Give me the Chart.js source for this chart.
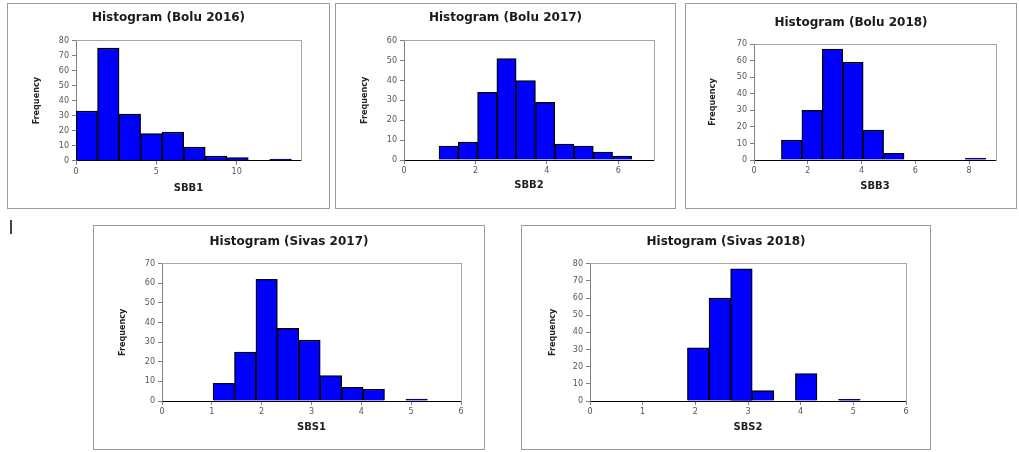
<!DOCTYPE html>
<html>
<head>
<meta charset="utf-8">
<script src="https://cdn.jsdelivr.net/npm/chart.js@4.4.0/dist/chart.umd.min.js"></script>
<style>
  body { margin: 0; background: #fff; width: 1019px; height: 452px; overflow: hidden; position: relative; }
  .panel { position: absolute; border: 1px solid #9c9c9c; background: #fff; }
  .panel canvas { display: block; }
  #cursor { position: absolute; left: 10px; top: 220px; width: 2px; height: 14px; background: #444; }
</style>
</head>
<body>
<div id="cursor"></div>
<script>
// bin centres (x) and frequencies
const bolu2016Bins = [0.67, 2.01, 3.35, 4.69, 6.03, 7.37, 8.71, 10.05, 11.39, 12.73];
const bolu2016Counts = [33, 75, 31, 18, 19, 9, 3, 2, 0, 1];

const bolu2017Bins = [1.25, 1.79, 2.33, 2.87, 3.41, 3.95, 4.49, 5.03, 5.57, 6.11];
const bolu2017Counts = [7, 9, 34, 51, 40, 29, 8, 7, 4, 2];

const bolu2018Bins = [1.40, 2.16, 2.92, 3.68, 4.44, 5.20, 5.96, 6.72, 7.48, 8.24];
const bolu2018Counts = [12, 30, 67, 59, 18, 4, 0, 0, 0, 1];

const sivas2017Bins = [1.24, 1.67, 2.10, 2.53, 2.96, 3.39, 3.82, 4.25, 4.68, 5.11];
const sivas2017Counts = [9, 25, 62, 37, 31, 13, 7, 6, 0, 1];

const sivas2018Bins = [2.055, 2.465, 2.875, 3.285, 3.695, 4.105, 4.515, 4.925];
const sivas2018Counts = [31, 60, 77, 6, 0, 16, 0, 1];

const titles = ['Histogram (Bolu 2016)', 'Histogram (Bolu 2017)', 'Histogram (Bolu 2018)',
                'Histogram (Sivas 2017)', 'Histogram (Sivas 2018)'];
const xLabels = ['SBB1', 'SBB2', 'SBB3', 'SBS1', 'SBS2'];
const xMaxes = [14, 7, 9, 6, 6];
const xSteps = [5, 2, 2, 1, 1];
const yMaxes = [80, 60, 70, 70, 80];
const allBins = [bolu2016Bins, bolu2017Bins, bolu2018Bins, sivas2017Bins, sivas2018Bins];
const allCounts = [bolu2016Counts, bolu2017Counts, bolu2018Counts, sivas2017Counts, sivas2018Counts];

// page layout: outer box, plot area, title / axis-title centres (page px)
const layout = [
  { box: [7, 3, 323, 206],   plot: [76, 40.7, 301, 160.7], titleY: 18.3, xTitleY: 188, yTitleX: 37 },
  { box: [335, 3, 341, 206], plot: [404, 40.7, 654, 160],  titleY: 18.3, xTitleY: 185, yTitleX: 365 },
  { box: [685, 3, 332, 206], plot: [754, 44, 996, 160],    titleY: 22.7, xTitleY: 186.7, yTitleX: 713 },
  { box: [93, 225, 392, 225], plot: [162, 263.7, 461, 401], titleY: 242, xTitleY: 427, yTitleX: 123 },
  { box: [521, 225, 410, 225], plot: [590, 263.7, 906, 401], titleY: 242, xTitleY: 427, yTitleX: 553 }
];

const TITLE_SIZE = 12, YT_SIZE = 9, XT_SIZE = 10;

function makeChart(i) {
  const L = layout[i];
  const [bx, by, bw, bh] = L.box;
  const innerL = bx + 1, innerT = by + 1, W = bw - 2, H = bh - 2;
  const plotL = L.plot[0] - innerL, plotT = L.plot[1] - innerT;
  const plotR = L.plot[2] - innerL, plotB = L.plot[3] - innerT;

  const div = document.createElement('div');
  div.className = 'panel';
  div.style.left = bx + 'px'; div.style.top = by + 'px';
  div.style.width = W + 'px'; div.style.height = H + 'px';
  const canvas = document.createElement('canvas');
  canvas.width = W; canvas.height = H;
  canvas.style.width = W + 'px'; canvas.style.height = H + 'px';
  div.appendChild(canvas);
  document.body.appendChild(div);

  const tLine = TITLE_SIZE * 1.2;
  const tPadTop = L.titleY - innerT - tLine / 2;
  const tPadBottom = plotT - tPadTop - tLine;
  const yTitlePad = (L.yTitleX - innerL) - YT_SIZE * 1.2 / 2;
  const xTitlePad = H - (L.xTitleY - innerT) - XT_SIZE * 1.2 / 2;

  const tickFont = { family: 'DejaVu Sans', size: 8 };

  new Chart(canvas, {
    type: 'bar',
    data: {
      datasets: [{
        data: allBins[i].map((b, k) => ({ x: b, y: allCounts[i][k] })),
        backgroundColor: '#0000ff',
        borderColor: '#000000',
        borderWidth: 1.3,
        barPercentage: 1,
        categoryPercentage: 1
      }]
    },
    options: {
      responsive: false,
      animation: false,
      layout: { padding: { left: 0, right: 0, top: 0, bottom: 0 } },
      plugins: {
        legend: { display: false },
        tooltip: { enabled: false },
        title: {
          display: true,
          text: titles[i],
          color: '#1a1a1a',
          font: { family: 'DejaVu Sans', size: TITLE_SIZE, weight: 'bold' },
          padding: { top: tPadTop, bottom: tPadBottom }
        }
      },
      scales: {
        x: {
          type: 'linear',
          min: 0, max: xMaxes[i],
          offset: false,
          afterFit: s => { s.height = H - plotB; },
          ticks: { stepSize: xSteps[i], includeBounds: false, color: '#555', font: tickFont, padding: 2, maxRotation: 0 },
          grid: { display: true, drawOnChartArea: false, drawTicks: true, tickLength: 4, color: '#808080', offset: false },
          border: { display: true, color: '#000', width: 1 },
          title: {
            display: true, text: xLabels[i], color: '#222',
            font: { family: 'DejaVu Sans', size: XT_SIZE, weight: 'bold' },
            padding: { top: 0, bottom: xTitlePad }
          }
        },
        y: {
          min: 0, max: yMaxes[i],
          afterFit: s => { s.width = plotL; },
          ticks: { stepSize: 10, color: '#555', font: tickFont, padding: 3 },
          grid: { display: true, drawOnChartArea: false, drawTicks: true, tickLength: 4, color: '#808080' },
          border: { display: true, color: '#808080', width: 1 },
          title: {
            display: true, text: 'Frequency', color: '#222',
            font: { family: "'DejaVu Sans Condensed', 'Liberation Sans'", size: YT_SIZE, weight: 'bold' },
            padding: { top: yTitlePad, bottom: 0 }
          }
        },
        // empty axes that only draw the grey top/right frame of the plot area
        y2: {
          position: 'right',
          afterFit: s => { s.width = W - plotR; },
          ticks: { display: false },
          grid: { display: false, drawTicks: false },
          border: { display: true, color: '#a6a6a6', width: 1 }
        },
        x2: {
          position: 'top',
          type: 'linear',
          afterFit: s => { s.height = 0; },
          ticks: { display: false },
          grid: { display: false, drawTicks: false },
          border: { display: true, color: '#a6a6a6', width: 1 }
        }
      }
    }
  });
}

for (let i = 0; i < layout.length; i++) makeChart(i);
</script>
</body>
</html>
